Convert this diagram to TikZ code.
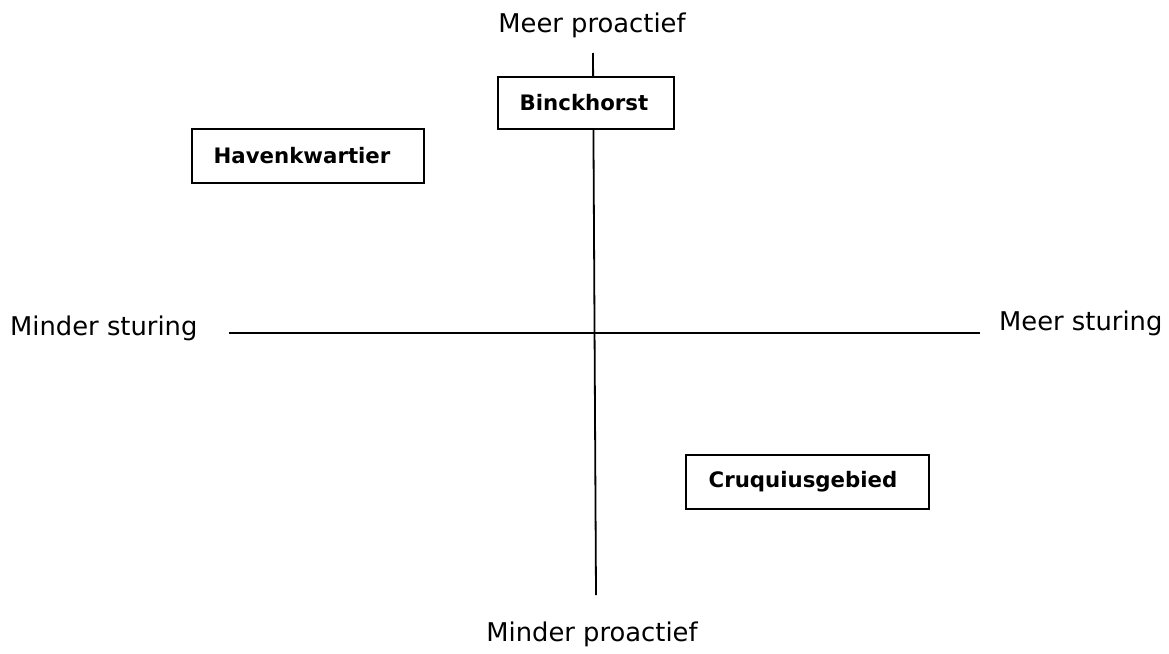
\documentclass[tikz,border=0pt]{standalone}
\usepackage{fontspec}
\setmainfont{DejaVu Sans}
\begin{document}
\begin{tikzpicture}[x=1pt,y=-1pt,
  axislabel/.style={inner sep=0pt,font=\fontsize{25.8}{30}\selectfont},
  boxlabel/.style={inner sep=0pt,font=\fontsize{21.3}{25}\selectfont\bfseries},
  areabox/.style={draw,line width=1.8pt,inner sep=0pt},
  axis/.style={line width=1.8pt}]
\useasboundingbox (0,0) rectangle (1169,653);
% axis end points
\coordinate (top) at (593,53);
\coordinate (bot) at (596,595);
\coordinate (left) at (229,333);
\coordinate (right) at (980,333);
% axis titles
\node[axislabel] (mp) at (592,25) {Meer proactief};
\node[axislabel] (mnp) at (592,634) {Minder proactief};
\node[axislabel,anchor=west] (ms) at (10,328) {Minder sturing};
\node[axislabel,anchor=west] (mrs) at (999,323) {Meer sturing};
% axes
\draw[axis] (top) -- (bot);
\draw[axis] (left) -- (right);
% areas
\node[areabox,minimum width=176pt,minimum height=52pt,fill=white] (binck) at (586,103) {};
\node[boxlabel] (binckt) at (584,103) {Binckhorst};
\node[areabox,minimum width=232pt,minimum height=54pt] (haven) at (308,156) {};
\node[boxlabel] (havent) at (302,156) {Havenkwartier};
\node[areabox,minimum width=243pt,minimum height=54pt] (cruq) at (807.5,482) {};
\node[boxlabel] (cruqt) at (803,482) {Cruquiusgebied};
\end{tikzpicture}
\end{document}
